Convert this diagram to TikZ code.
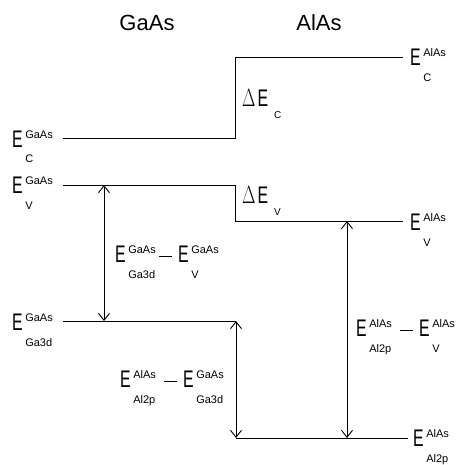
\documentclass[tikz,border=0pt]{standalone}
\usepackage{fontspec}
\setmainfont{Liberation Sans}
\usetikzlibrary{arrows.meta}
\newcommand{\BigE}{\scalebox{0.66}[1]{\fontsize{24}{24}\selectfont E}}
\newcommand{\Elab}[2]{\BigE\hspace{2.5pt}\rlap{\raisebox{-16pt}{\fontsize{11}{11}\selectfont #2}}\raisebox{9pt}{\fontsize{11}{11}\selectfont #1}}
\newcommand{\Edash}{\rule[5pt]{13pt}{0.7pt}}
\newcommand{\Pair}[4]{\makebox[44pt][l]{\Elab{#1}{#2}}\Edash\hspace{6pt}\Elab{#3}{#4}}
\newcommand{\DE}[1]{\scalebox{0.7}[1]{\fontsize{24}{24}\selectfont $\Delta$}\hspace{2pt}\BigE\hspace{6pt}\raisebox{-12pt}{\fontsize{10}{10}\selectfont #1}}
\begin{document}
\begin{tikzpicture}[x=1pt,y=-1pt,
  level/.style={line width=0.9pt},
  span/.style={line width=0.9pt,{Straight Barb[length=7pt,width=11pt]}-{Straight Barb[length=7pt,width=11pt]}},
  lab/.style={anchor=base west,inner sep=0pt},
  title/.style={anchor=base,inner sep=0pt,font=\fontsize{22}{22}\selectfont}]
\useasboundingbox (0,0) rectangle (455,465);
% titles
\node[title] (tGaAs) at (147,31) {GaAs};
\node[title] (tAlAs) at (319,31) {AlAs};
% coordinates of levels
\coordinate (cL) at (63,138);
\coordinate (cS1) at (235,138);
\coordinate (cS2) at (235,57);
\coordinate (cR) at (403,57);
\coordinate (vL) at (63,185);
\coordinate (vS1) at (235,185);
\coordinate (vS2) at (235,221);
\coordinate (vR) at (403,221);
\coordinate (gL) at (63,321);
\coordinate (gR) at (236,321);
\coordinate (aL) at (236,438);
\coordinate (aR) at (408,438);
\coordinate (a1t) at (104,185);
\coordinate (a1b) at (104,321);
\coordinate (a3t) at (347,221);
\coordinate (a3b) at (347,438);
% levels
\draw[level] (cL) -- (cS1) -- (cS2) -- (cR);
\draw[level] (vL) -- (vS1) -- (vS2) -- (vR);
\draw[level] (gL) -- (gR);
\draw[level] (aL) -- (aR);
% arrows
\draw[span] (a1t) -- (a1b);
\draw[span] (gR) -- (aL);
\draw[span] (a3t) -- (a3b);
% level labels
\node[lab] (lcG) at (12,147) {\Elab{GaAs}{C}};
\node[lab] (lvG) at (12,193) {\Elab{GaAs}{V}};
\node[lab] (lgG) at (12,330) {\Elab{GaAs}{Ga3d}};
\node[lab] (lcA) at (410,66) {\Elab{AlAs}{C}};
\node[lab] (lvA) at (410,230) {\Elab{AlAs}{V}};
\node[lab] (laA) at (413,446) {\Elab{AlAs}{Al2p}};
% offsets
\node[lab] (dEc) at (242,107) {\DE{C}};
\node[lab] (dEv) at (242,203) {\DE{V}};
% differences
\node[lab] (m1) at (115,262) {\Pair{GaAs}{Ga3d}{GaAs}{V}};
\node[lab] (m2) at (120,387) {\Pair{AlAs}{Al2p}{GaAs}{Ga3d}};
\node[lab] (m3) at (356,336) {\Pair{AlAs}{Al2p}{AlAs}{V}};
\end{tikzpicture}
\end{document}
